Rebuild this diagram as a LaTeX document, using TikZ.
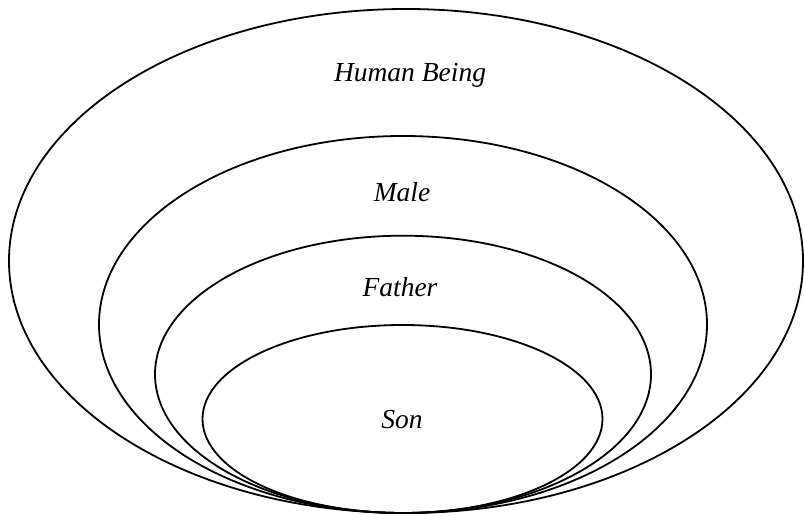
\documentclass[tikz,border=0pt]{standalone}
\usepackage{fontspec}
\setmainfont{Liberation Serif}
\begin{document}
\begin{tikzpicture}[x=1pt,y=1pt,
  ring/.style={draw=black,line width=1.8pt},
  lbl/.style={anchor=base,inner sep=0pt,font=\fontsize{27.5}{30}\selectfont\itshape}]
\useasboundingbox (0,0) rectangle (804,516);
\draw[ring] (406,255) ellipse [x radius=397, y radius=252];
\draw[ring] (403,191.5) ellipse [x radius=304, y radius=188.5];
\draw[ring] (403,141.65) ellipse [x radius=248, y radius=138.65];
\draw[ring] (402.5,97) ellipse [x radius=200, y radius=94];
\node[lbl] (human) at (410,434) {Human Being};
\node[lbl] (male) at (402,314) {Male};
\node[lbl] (father) at (400,219) {Father};
\node[lbl] (son) at (402,87) {Son};
\end{tikzpicture}
\end{document}
